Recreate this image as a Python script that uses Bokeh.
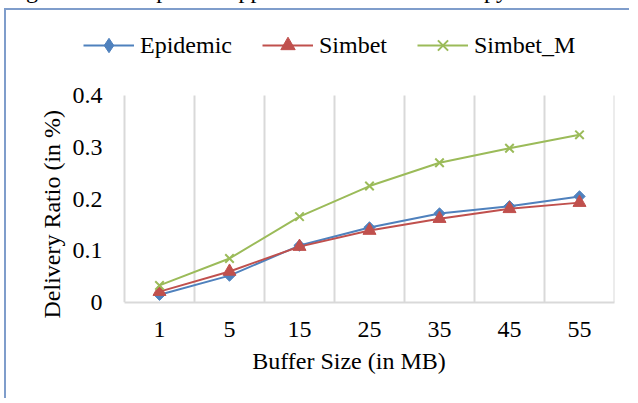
import math
from bokeh.plotting import figure
from bokeh.models import FixedTicker, Legend, LegendItem, Range1d, Div, Title
from bokeh.layouts import column
from bokeh.embed import file_html
from bokeh.resources import INLINE

# ---- data ----
buffer_sizes = ["1", "5", "15", "25", "35", "45", "55"]
epidemic = [0.015, 0.052, 0.110, 0.145, 0.172, 0.186, 0.205]
simbet = [0.021, 0.060, 0.108, 0.139, 0.162, 0.181, 0.193]
simbet_m = [0.033, 0.085, 0.166, 0.225, 0.270, 0.298, 0.324]
y_ticks = [0, 0.1, 0.2, 0.3, 0.4]
header_text = "larger buffer space. Applied SimBet multi-copy has lower"
x_title = "Buffer Size (in MB)"
y_title = "Delivery Ratio (in %)"

FONT = "Liberation Serif"
BLUE = "#4F81BD"
RED = "#C0504D"
GREEN = "#9BBB59"
GRID = "#D9D9D9"
BORDER = "#7F9DCB"

n = len(buffer_sizes)
xs = [i + 0.5 for i in range(n)]
y_max = y_ticks[-1]

# frame geometry (pixels): the frame also hosts the legend, so it extends
# beyond the plotted area to the left and to the top
PX_PER_CAT = 70.0
LEFT_EXTRA = 41.0
PLOT_H = 207.0
FRAME_H = 282.0
x_start = -LEFT_EXTRA / PX_PER_CAT
y_end = y_max * FRAME_H / PLOT_H

p = figure(width=625, height=390, output_backend="svg", toolbar_location=None,
           x_range=Range1d(x_start, n), y_range=Range1d(0, y_end),
           min_border_left=77, min_border_right=17,
           min_border_top=10, min_border_bottom=98)
p.outline_line_color = None
p.background_fill_color = "white"
p.border_fill_color = "white"
p.styles = {"margin-left": "4px", "border-left": f"2px solid {BORDER}",
            "border-top": f"2px solid {BORDER}"}
p.xgrid.grid_line_color = None
p.ygrid.grid_line_color = None

# category boundary grid lines, limited to the value range
bounds = list(range(n + 1))
p.segment(x0=bounds, y0=[0] * len(bounds), x1=bounds, y1=[y_max] * len(bounds),
          line_color=GRID, line_width=2)

# x axis
xa = p.xaxis[0]
xa.bounds = (0, n)
xa.ticker = FixedTicker(ticks=xs)
xa.major_label_overrides = {x: lab for x, lab in zip(xs, buffer_sizes)}
xa.axis_line_color = GRID
xa.axis_line_width = 2
xa.major_tick_line_color = None
xa.minor_tick_line_color = None
xa.major_tick_out = 0
xa.major_tick_in = 0
xa.major_label_standoff = 19
xa.major_label_text_font = FONT
xa.major_label_text_font_size = "24px"
xa.major_label_text_color = "black"
xa.axis_label = x_title
xa.axis_label_text_font = FONT
xa.axis_label_text_font_size = "24px"
xa.axis_label_text_font_style = "normal"
xa.axis_label_text_color = "black"
xa.axis_label_standoff = 8

# y axis
ya = p.yaxis[0]
ya.ticker = FixedTicker(ticks=y_ticks)
ya.major_label_overrides = {0: "0"}
ya.axis_line_color = None
ya.major_tick_line_color = None
ya.minor_tick_line_color = None
ya.major_tick_out = 0
ya.major_tick_in = 0
ya.major_label_standoff = -19
ya.major_label_text_font = FONT
ya.major_label_text_font_size = "24px"
ya.major_label_text_color = "black"

# y title as a side title so it can be shifted along the axis
yt = Title(text=y_title, align="left", vertical_align="bottom",
           offset=-16, standoff=10,
           text_font=FONT, text_font_size="24px", text_font_style="normal",
           text_color="black")
p.add_layout(yt, "left")

# series
l1 = p.line(xs, epidemic, line_color=BLUE, line_width=2)
m1 = p.scatter(xs, epidemic, marker="square", size=8, angle=math.pi / 4,
               fill_color=BLUE, line_color=BLUE)
l2 = p.line(xs, simbet, line_color=RED, line_width=2)
m2 = p.scatter(xs, simbet, marker="triangle", size=13,
               fill_color=RED, line_color=RED)
l3 = p.line(xs, simbet_m, line_color=GREEN, line_width=2)
m3 = p.scatter(xs, simbet_m, marker="x", size=12, line_color=GREEN, line_width=2)

# legend-only diamond (the rotated square loses its angle in the legend)
k1 = p.scatter(xs, epidemic, marker="diamond", fill_color=BLUE,
               line_color=BLUE, visible=False)

legend = Legend(items=[
    LegendItem(label="Epidemic", renderers=[l1, k1]),
    LegendItem(label="Simbet", renderers=[l2, m2]),
    LegendItem(label="Simbet_M", renderers=[l3, m3]),
], orientation="horizontal", location=(0, 239))
legend.glyph_width = 51
legend.glyph_height = 36
legend.label_height = 24
legend.label_standoff = 6
legend.spacing = 30
legend.padding = 0
legend.margin = 0
legend.border_line_color = None
legend.background_fill_alpha = 0
legend.label_text_font = FONT
legend.label_text_font_size = "24px"
legend.label_text_color = "black"
p.add_layout(legend, "center")

header = Div(
    text=('<div style="position:relative; top:-22px; margin-left:1px; width:626px; '
          "font-family:'Liberation Serif'; font-size:24px; line-height:24px; "
          'text-align:justify; text-align-last:justify; color:black">'
          + header_text + "</div>"),
    width=630, height=8, margin=0, styles={"overflow": "hidden"})

layout = column(header, p, spacing=0)
open("out.html", "w").write(file_html(layout, INLINE))
